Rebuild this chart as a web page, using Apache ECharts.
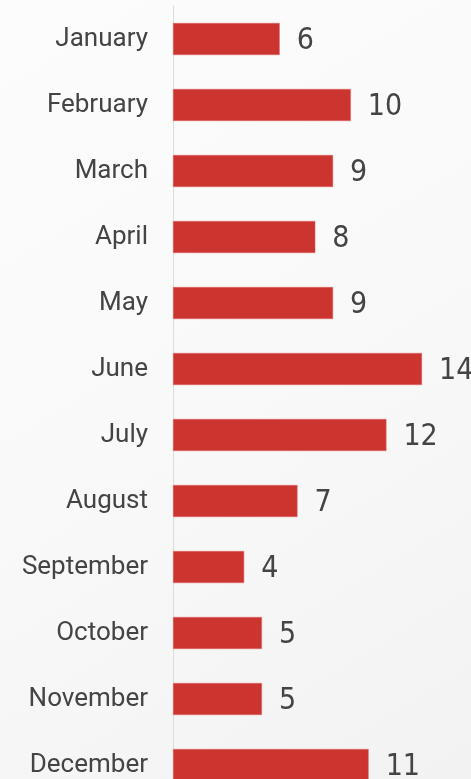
<!DOCTYPE html>
<html>
<head>
<meta charset="utf-8">
<script src="https://cdn.jsdelivr.net/npm/echarts@6/dist/echarts.min.js"></script>
<style>
  html, body { margin: 0; padding: 0; }
  #chart { width: 471px; height: 779px; }
</style>
</head>
<body>
<div id="chart"></div>
<script>
// datos del grafico
const meses = ['January', 'February', 'March', 'April', 'May', 'June',
               'July', 'August', 'September', 'October', 'November', 'December'];
const valores = [6, 10, 9, 8, 9, 14, 12, 7, 4, 5, 5, 11];

const chart = echarts.init(document.getElementById('chart'));

chart.setOption({
    backgroundColor: {
        type: 'linear', x: 0, y: 0, x2: 1, y2: 1,
        colorStops: [
            { offset: 0, color: '#fcfcfc' },
            { offset: 0.5, color: '#f9f9f9' },
            { offset: 1, color: '#f2f2f2' }
        ]
    },
    grid: {
        left: 173,
        top: 6,
        width: 249,
        height: 792,   // la ultima barra queda cortada abajo
        outerBoundsMode: 'none'
    },
    xAxis: {
        type: 'value',
        min: 0,
        max: 14,
        show: false
    },
    yAxis: {
        type: 'category',
        data: meses,
        inverse: true,
        axisLine: { show: true, lineStyle: { color: '#dcdcdc', width: 1 } },
        axisTick: { show: false },
        axisLabel: {
            margin: 25,
            color: '#444444',
            fontFamily: 'Roboto',
            fontSize: 26
        }
    },
    series: [{
        type: 'bar',
        data: valores,
        barWidth: 32,
        itemStyle: { color: '#cc3430', borderColor: '#e06a66', borderWidth: 0.5 },
        label: {
            show: true,
            position: 'right',
            distance: 17,
            offset: [0, 2],
            color: '#444444',
            fontFamily: 'DejaVu Sans Condensed',
            fontSize: 30
        },
        silent: true
    }]
});
</script>
</body>
</html>
